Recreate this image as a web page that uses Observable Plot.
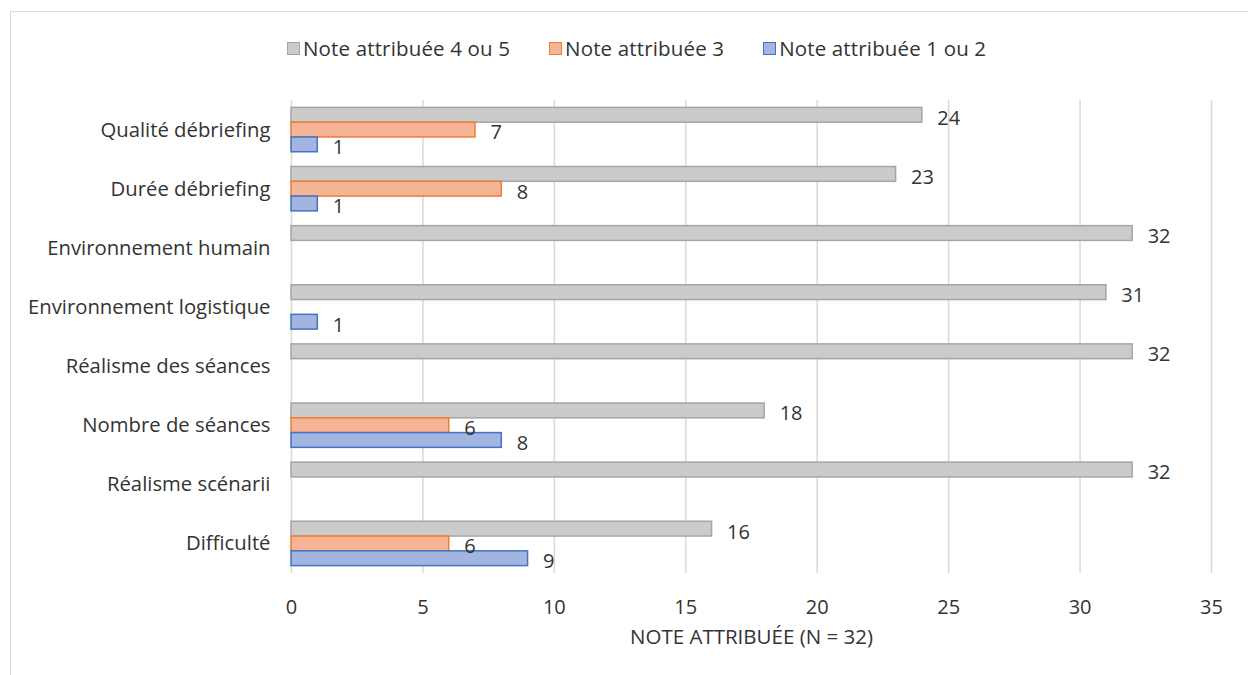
<!DOCTYPE html>
<html>
<head>
<meta charset="utf-8">
<script src="https://cdn.jsdelivr.net/npm/d3@7"></script>
<script src="https://cdn.jsdelivr.net/npm/@observablehq/plot@0.6"></script>
<style>
  html, body { margin: 0; padding: 0; background: #fff; overflow: hidden; }
  body { width: 1248px; height: 675px; position: relative; font-family: "Open Sans", sans-serif; color: #333; }
  #frame { position: absolute; left: 10px; top: 11px; width: 1260px; height: 700px; border: 1.5px solid #d9d9d9; box-sizing: border-box; }
  #legend { position: absolute; left: 287px; top: 34px; display: flex; gap: 39px; font-size: 20.5px; color: #333; line-height: 28px; letter-spacing: 0.15px; }
  .item { display: flex; align-items: center; }
  .sw { width: 11px; height: 11px; border: 1.5px solid; margin-right: 3px; }
  #chart { position: absolute; left: 0; top: 70px; }
</style>
</head>
<body>
<div id="frame"></div>
<div id="legend"></div>
<div id="chart"></div>
<script>
const categories = [
  "Qualité débriefing",
  "Durée débriefing",
  "Environnement humain",
  "Environnement logistique",
  "Réalisme des séances",
  "Nombre de séances",
  "Réalisme scénarii",
  "Difficulté"
];
const seriesNames = ["Note attribuée 4 ou 5", "Note attribuée 3", "Note attribuée 1 ou 2"];
const note45 = [24, 23, 32, 31, 32, 18, 32, 16];
const note3  = [7, 8, 0, 0, 0, 6, 0, 6];
const note12 = [1, 1, 0, 1, 0, 8, 0, 9];
const xTicks = [0, 5, 10, 15, 20, 25, 30, 35];
const fills   = ["#cbcbcb", "#f5b495", "#a2b4e0"];
const strokes = ["#a5a5a5", "#ed7d31", "#4472c4"];
const xTitle = "NOTE ATTRIBUÉE (N = 32)";

const seriesValues = [note45, note3, note12];
const rows = [];
categories.forEach((c, i) => {
  seriesValues.forEach((vals, s) => {
    rows.push({category: c, series: seriesNames[s], s, key: c + "|" + s, value: vals[i]});
  });
});
const shown = rows.filter(d => d.value > 0);

const yDomain = [];
categories.forEach((c, i) => {
  for (let s = 0; s < 3; s++) yDomain.push(c + "|" + s);
  if (i < categories.length - 1) yDomain.push(c + "|gap");
});

// legend
const legend = document.getElementById("legend");
seriesNames.forEach((n, i) => {
  const it = document.createElement("div");
  it.className = "item";
  const sw = document.createElement("span");
  sw.className = "sw";
  sw.style.background = fills[i];
  sw.style.borderColor = strokes[i];
  const t = document.createElement("span");
  t.textContent = n;
  it.appendChild(sw); it.appendChild(t);
  legend.appendChild(it);
});

const chart = Plot.plot({
  width: 1248,
  height: 590,
  marginTop: 30,
  marginBottom: 87,
  marginLeft: 291,
  marginRight: 37,
  style: {fontFamily: "Open Sans, sans-serif", fontSize: "20px", color: "#333", background: "transparent"},
  x: {domain: [0, 35], ticks: xTicks, grid: false, tickSize: 0, tickPadding: 26, label: null},
  y: {type: "band", domain: yDomain, paddingInner: 0, paddingOuter: 0.5, round: false, axis: null},
  color: {domain: seriesNames, range: fills},
  marks: [
    Plot.ruleX(xTicks, {x: d => d, stroke: "#d9d9d9", strokeWidth: 1.5}),
    Plot.barX(shown, {
      x: "value", y: "key",
      fill: d => fills[d.s], stroke: d => strokes[d.s], strokeWidth: 1.5
    }),
    Plot.text(shown, {
      x: "value", y: "key", text: d => String(d.value),
      textAnchor: "start", dx: 15, dy: 3, fontSize: 20, fill: "#333"
    }),
    Plot.text(categories, {
      x: () => 0, y: d => d + "|1", text: d => d,
      textAnchor: "end", dx: -21, fontSize: 20.3, fill: "#333"
    }),
    Plot.text([xTitle], {
      frameAnchor: "bottom", dy: 70, text: d => d, fontSize: 20.5, fill: "#333"
    })
  ]
});
document.getElementById("chart").appendChild(chart);
</script>
</body>
</html>
